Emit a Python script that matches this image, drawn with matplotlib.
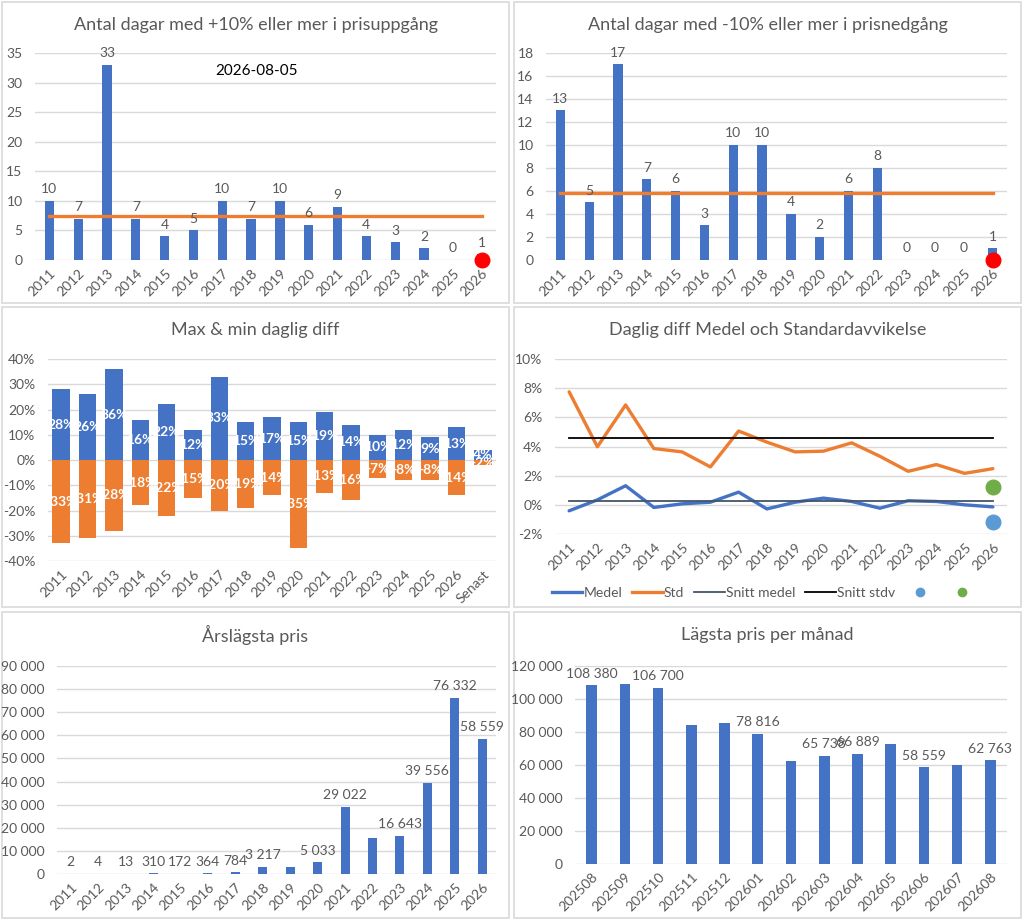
import matplotlib
matplotlib.use("Agg")
import matplotlib.pyplot as plt
from matplotlib.lines import Line2D
from matplotlib.patches import Rectangle
from matplotlib.ticker import FuncFormatter, MultipleLocator

plt.rcParams["font.family"] = ["Lato", "DejaVu Sans"]

# ---------- data ----------
years = [str(y) for y in range(2011, 2027)]

up_days = [10, 7, 33, 7, 4, 5, 10, 7, 10, 6, 9, 4, 3, 2, 0, 1]
up_avg = 7.4
down_days = [13, 5, 17, 7, 6, 3, 10, 10, 4, 2, 6, 8, 0, 0, 0, 1]
down_avg = 5.8
today_days = 0
date_text = "2026-08-05"

diff_cats = years + ["Senast"]
diff_max = [28, 26, 36, 16, 22, 12, 33, 15, 17, 15, 19, 14, 10, 12, 9, 13, 4]
diff_min = [-33, -31, -28, -18, -22, -15, -20, -19, -14, -35, -13, -16, -7, -8, -8, -14, -2]

medel = [-0.41, 0.34, 1.31, -0.18, 0.07, 0.18, 0.87, -0.28, 0.18, 0.46, 0.23, -0.23, 0.28, 0.23, 0.0, -0.14]
std = [7.75, 3.98, 6.85, 3.86, 3.63, 2.6, 5.06, 4.3, 3.63, 3.68, 4.25, 3.33, 2.3, 2.76, 2.16, 2.48]
snitt_medel = 0.28
snitt_stdv = 4.6
senast_medel = -1.2
senast_std = 1.25

min_price = [2, 4, 13, 310, 172, 364, 784, 3217, 3190, 5033, 29022, 15650, 16643, 39556, 76332, 58559]
min_price_shown = ["2011", "2012", "2013", "2014", "2015", "2016", "2017", "2018",
                   "2020", "2021", "2023", "2024", "2025", "2026"]

months = ["202508", "202509", "202510", "202511", "202512", "202601", "202602",
          "202603", "202604", "202605", "202606", "202607", "202608"]
month_min = [108380, 108900, 106700, 84300, 85300, 78816, 62300, 65738, 66889, 73000, 58559, 59900, 62763]
month_shown = ["202508", "202510", "202601", "202603", "202604", "202606", "202608"]

BLUE = "#4472C4"
ORANGE = "#ED7D31"
GREEN = "#70AD47"
LBLUE = "#5B9BD5"
GRAY = "#595959"
GRID = "#D9D9D9"

W, H = 1024, 921
fig = plt.figure(figsize=(W / 100, H / 100), dpi=100)


def panel(x0, y0, x1, y1, title):
    fig.patches.append(Rectangle((x0 / W, 1 - y1 / H), (x1 - x0) / W, (y1 - y0) / H,
                                 transform=fig.transFigure, facecolor="none",
                                 edgecolor=GRID, linewidth=1.2, zorder=-1))
    fig.text((x0 + x1) / 2 / W, 1 - (y0 + 23) / H, title, ha="center", va="center",
             fontsize=13, color=GRAY)


def add_ax(l, t, r, b):
    ax = fig.add_axes([l / W, 1 - b / H, (r - l) / W, (b - t) / H])
    ax.patch.set_alpha(0)
    for s in ax.spines.values():
        s.set_visible(False)
    ax.grid(axis="y", color=GRID, linewidth=1)
    ax.set_axisbelow(True)
    ax.tick_params(length=0, colors=GRAY, labelsize=10)
    ax.tick_params(axis="y", pad=9)
    ax.tick_params(axis="x", pad=5)
    return ax


def rot_labels(ax, labels):
    ax.set_xticks(range(len(labels)))
    ax.set_xticklabels(labels, rotation=45, ha="right", rotation_mode="anchor")


def space_thousands(v, pos=None):
    return f"{int(round(v)):,}".replace(",", " ")


# ---------- panel 1 ----------
panel(2, 2, 509, 303, "Antal dagar med +10% eller mer i prisuppgång")
ax = add_ax(35, 53, 496, 260)
x = range(len(years))
ax.bar(x, up_days, width=0.32, color=BLUE)
ax.plot([0, len(years) - 1], [up_avg, up_avg], color=ORANGE, linewidth=2.4)
ax.plot(len(years) - 1, today_days, "o", color="red", markersize=10.5, zorder=5,
        clip_on=False)
for i, v in enumerate(up_days):
    ax.annotate(str(v), (i, v), xytext=(0, 4), textcoords="offset points",
                ha="center", va="bottom", fontsize=10, color=GRAY)
ax.text(0.48, 0.915, date_text, transform=ax.transAxes, ha="center", va="center",
        fontsize=11, color="black")
ax.set_xlim(-0.5, len(years) - 0.5)
ax.set_ylim(0, 35)
ax.yaxis.set_major_locator(MultipleLocator(5))
rot_labels(ax, years)

# ---------- panel 2 ----------
panel(514, 2, 1021, 303, "Antal dagar med -10% eller mer i prisnedgång")
ax = add_ax(546, 53, 1007, 260)
ax.bar(x, down_days, width=0.32, color=BLUE)
ax.plot([0, len(years) - 1], [down_avg, down_avg], color=ORANGE, linewidth=2.4)
ax.plot(len(years) - 1, today_days, "o", color="red", markersize=10.5, zorder=5,
        clip_on=False)
for i, v in enumerate(down_days):
    ax.annotate(str(v), (i, v), xytext=(0, 4), textcoords="offset points",
                ha="center", va="bottom", fontsize=10, color=GRAY)
ax.set_xlim(-0.5, len(years) - 0.5)
ax.set_ylim(0, 18)
ax.yaxis.set_major_locator(MultipleLocator(2))
rot_labels(ax, years)

# ---------- panel 3 ----------
panel(2, 307, 509, 607, "Max & min daglig diff")
ax = add_ax(48, 359, 496, 561)
xd = range(len(diff_cats))
ax.bar(xd, diff_max, width=0.66, color=BLUE)
ax.bar(xd, diff_min, width=0.66, color=ORANGE)
for i, (hi, lo) in enumerate(zip(diff_max, diff_min)):
    ax.text(i, hi / 2, f"{hi}%", ha="center", va="center", fontsize=10,
            color="white", fontweight="bold")
    ax.text(i, lo / 2, f"{lo}%", ha="center", va="center", fontsize=10,
            color="white", fontweight="bold")
ax.set_xlim(-0.5, len(diff_cats) - 0.5)
ax.set_ylim(-40, 40)
ax.yaxis.set_major_locator(MultipleLocator(10))
ax.yaxis.set_major_formatter(FuncFormatter(lambda v, p: f"{v:.0f}%"))
rot_labels(ax, diff_cats)

# ---------- panel 4 ----------
panel(514, 307, 1021, 607, "Daglig diff Medel och Standardavvikelse")
ax = add_ax(555, 359, 1007, 534)
n = len(years)
ax.plot(x, medel, color=BLUE, linewidth=2.4, solid_capstyle="round")
ax.plot(x, std, color=ORANGE, linewidth=2.4, solid_capstyle="round")
ax.plot([0, n - 1], [snitt_medel, snitt_medel], color="#44546A", linewidth=1.3)
ax.plot([0, n - 1], [snitt_stdv, snitt_stdv], color="black", linewidth=1.3)
ax.plot(n - 1, senast_medel, "o", color=LBLUE, markersize=10.5, zorder=5)
ax.plot(n - 1, senast_std, "o", color=GREEN, markersize=10.5, zorder=5)
ax.set_xlim(-0.5, n - 0.5)
ax.set_ylim(-2, 10)
ax.yaxis.set_major_locator(MultipleLocator(2))
ax.yaxis.set_major_formatter(FuncFormatter(lambda v, p: f"{v:.0f}%"))
rot_labels(ax, years)
handles = [Line2D([], [], color=BLUE, linewidth=2.4),
           Line2D([], [], color=ORANGE, linewidth=2.4),
           Line2D([], [], color="#44546A", linewidth=1.3),
           Line2D([], [], color="black", linewidth=1.3),
           Line2D([], [], color=LBLUE, marker="o", linestyle="none", markersize=6),
           Line2D([], [], color=GREEN, marker="o", linestyle="none", markersize=6)]
fig.legend(handles, ["Medel", "Std", "Snitt medel", "Snitt stdv", "", ""],
           loc="center", bbox_to_anchor=(765 / W, 1 - 593 / H), ncol=6, frameon=False,
           fontsize=10, labelcolor=GRAY, handlelength=2.2, handletextpad=0.1,
           columnspacing=0.7)

# ---------- panel 5 ----------
panel(2, 612, 509, 918, "Årslägsta pris")
ax = add_ax(57, 666, 496, 874)
ax.bar(x, min_price, width=0.33, color=BLUE)
for i, (yr, v) in enumerate(zip(years, min_price)):
    if yr in min_price_shown:
        ax.annotate(space_thousands(v), (i, v), xytext=(0, 4), textcoords="offset points",
                    ha="center", va="bottom", fontsize=10, color=GRAY)
ax.set_xlim(-0.5, n - 0.5)
ax.set_ylim(0, 90000)
ax.yaxis.set_major_locator(MultipleLocator(10000))
ax.yaxis.set_major_formatter(FuncFormatter(space_thousands))
rot_labels(ax, years)

# ---------- panel 6 ----------
panel(514, 612, 1021, 918, "Lägsta pris per månad")
ax = add_ax(575, 666, 1007, 864)
xm = range(len(months))
ax.bar(xm, month_min, width=0.32, color=BLUE)
for i, (m, v) in enumerate(zip(months, month_min)):
    if m in month_shown:
        ax.annotate(space_thousands(v), (i, v), xytext=(0, 4), textcoords="offset points",
                    ha="center", va="bottom", fontsize=10, color=GRAY)
ax.set_xlim(-0.5, len(months) - 0.5)
ax.set_ylim(0, 120000)
ax.yaxis.set_major_locator(MultipleLocator(20000))
ax.yaxis.set_major_formatter(FuncFormatter(space_thousands))
rot_labels(ax, months)

fig.savefig("out.png", dpi=100, facecolor="white")
